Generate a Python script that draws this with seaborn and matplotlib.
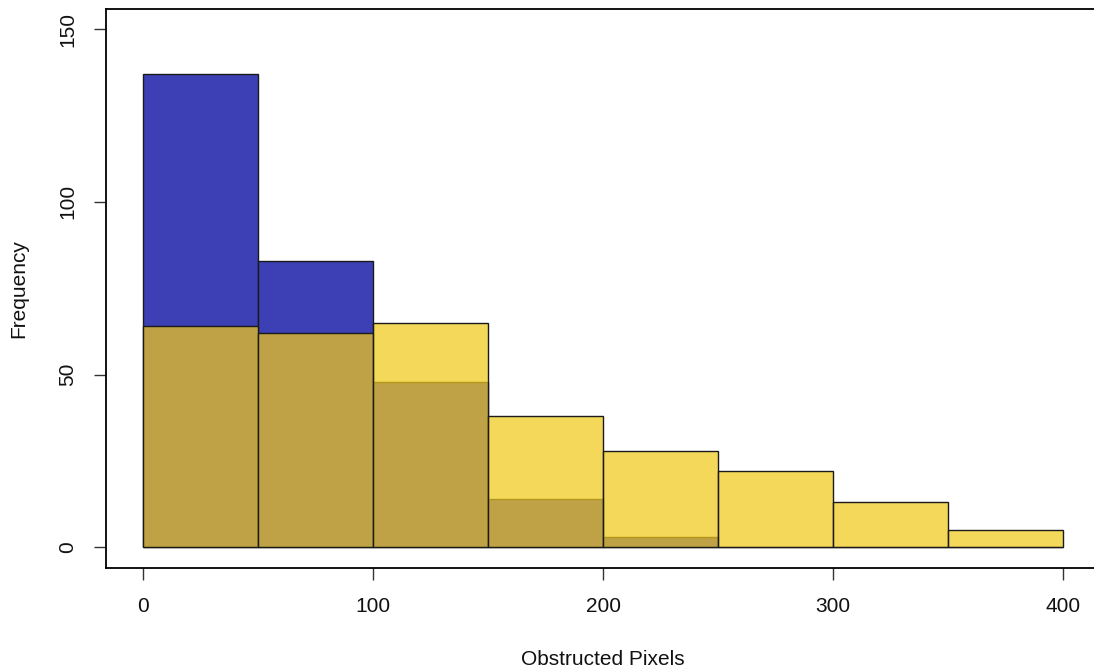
import numpy as np
import pandas as pd
import matplotlib
matplotlib.use("Agg")
import matplotlib.pyplot as plt
import seaborn as sns

# bin edges and counts
bin_edges = [0, 50, 100, 150, 200, 250, 300, 350, 400]
blue_counts = [137, 83, 48, 14, 3, 0, 0, 0]
yellow_counts = [64, 62, 65, 38, 28, 22, 13, 5]

blue_col = (60 / 255, 64 / 255, 180 / 255)
yellow_col = (241 / 255, 201 / 255, 26 / 255)

centers = [(a + b) / 2 for a, b in zip(bin_edges[:-1], bin_edges[1:])]
df = pd.DataFrame({"pixels": centers, "blue": blue_counts, "yellow": yellow_counts})

sns.set_style("white")
plt.rcParams["font.family"] = ["Liberation Sans", "DejaVu Sans"]
plt.rcParams["text.color"] = "#111111"
plt.rcParams["axes.labelcolor"] = "#111111"
plt.rcParams["xtick.labelcolor"] = "#111111"
plt.rcParams["ytick.labelcolor"] = "#111111"

fig = plt.figure(figsize=(10.94, 6.71), dpi=100)
ax = fig.add_axes([0.0969, 0.1535, 0.9086, 0.8338])

# blue first, then translucent yellow on top
sns.histplot(data=df, x="pixels", weights="blue", bins=bin_edges, ax=ax,
             color=blue_col, edgecolor="black", linewidth=1.0)
n_blue = len(ax.patches)
sns.histplot(data=df, x="pixels", weights="yellow", bins=bin_edges, ax=ax,
             color=yellow_col, edgecolor="black", linewidth=1.0)

for i, p in enumerate(ax.patches):
    p.set_alpha(None)
    if i < n_blue:
        p.set_facecolor(blue_col + (1.0,))
    else:
        p.set_facecolor(yellow_col + (0.72,))
    p.set_edgecolor((0.1, 0.1, 0.1, 1.0))

ax.set_xlim(-16, 416)
ax.set_ylim(-6, 156)
ax.set_xticks([0, 100, 200, 300, 400])
ax.set_yticks([0, 50, 100, 150])
ax.tick_params(axis="both", direction="out", length=8.6, width=1.0,
               color="#333333", labelsize=15, pad=12,
               bottom=True, left=True)
for lab in ax.get_yticklabels():
    lab.set_rotation(90)
    lab.set_va("center")

for s in ax.spines.values():
    s.set_color("black")
    s.set_linewidth(1.3)

ax.set_xlabel("Obstructed Pixels", fontsize=15, labelpad=25)
ax.set_ylabel("Frequency", fontsize=15, labelpad=22)

fig.savefig("out.png", dpi=100)
